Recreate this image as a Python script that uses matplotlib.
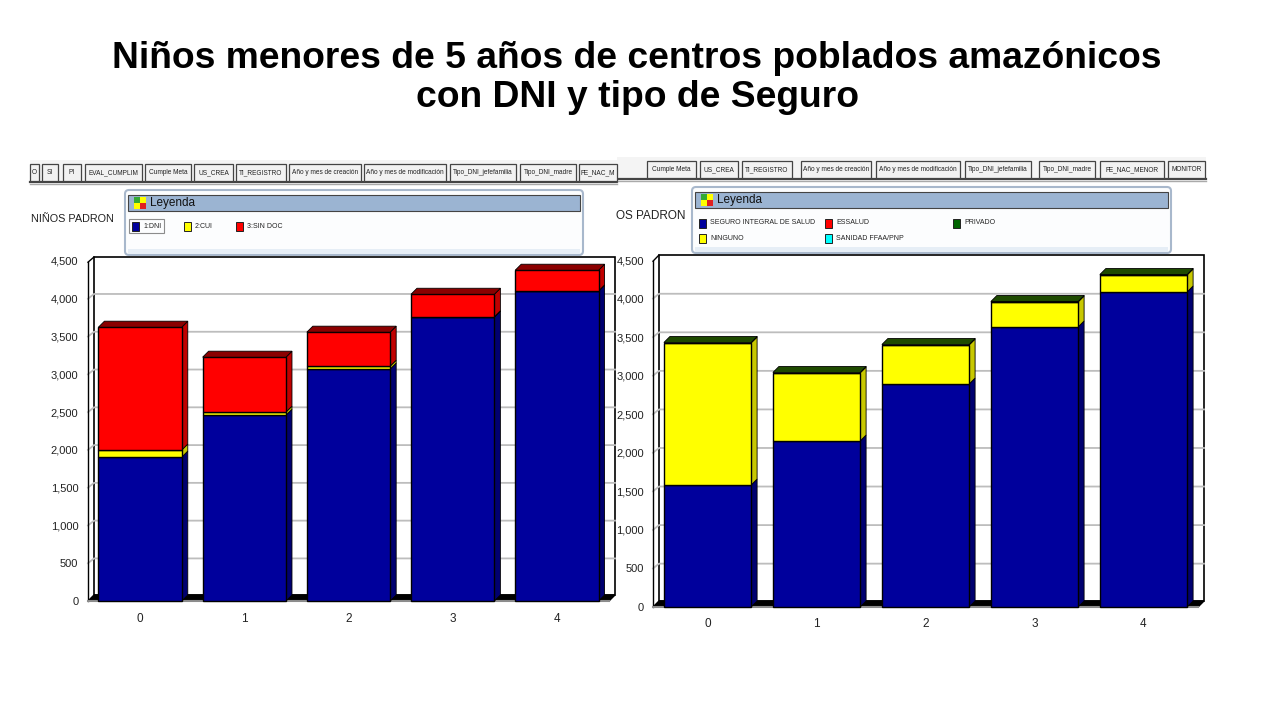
import matplotlib
matplotlib.use("Agg")
import matplotlib.pyplot as plt
from matplotlib.patches import Rectangle, Polygon, FancyBboxPatch

W, H = 1280, 720
plt.rcParams['font.family'] = ['Liberation Sans', 'DejaVu Sans']

TITLE = "Niños menores de 5 años de centros poblados amazónicos\ncon DNI y tipo de Seguro"
ages = ["0", "1", "2", "3", "4"]
yticks = [0, 500, 1000, 1500, 2000, 2500, 3000, 3500, 4000, 4500]

dni = [1905, 2460, 3070, 3757, 4100]
cui = [93, 40, 38, 5, 4]
sin_doc = [1626, 727, 450, 298, 274]

sis = [1582, 2153, 2892, 3632, 4086]
ninguno = [1842, 882, 506, 324, 220]
privado = [6, 6, 6, 6, 6]

tabs_left = ["O", "SI", "PI", "EVAL_CUMPLIM", "Cumple Meta", "US_CREA", "TI_REGISTRO", "Año y mes de creación",
             "Año y mes de modificación", "Tipo_DNI_jefefamilia", "Tipo_DNI_madre", "FE_NAC_M"]
tabs_left_x = [30, 42, 63, 85, 145, 194, 236, 289, 364, 450, 520, 579]
tabs_left_w = [9, 16, 18, 57, 46, 39, 50, 72, 82, 66, 56, 38]
tabs_right = ["Cumple Meta", "US_CREA", "TI_REGISTRO", "Año y mes de creación",
              "Año y mes de modificación", "Tipo_DNI_jefefamilia", "Tipo_DNI_madre", "FE_NAC_MENOR", "MONITOR"]
tabs_right_x = [647, 700, 742, 801, 876, 965, 1039, 1100, 1168]
tabs_right_w = [49, 38, 50, 70, 84, 66, 56, 64, 37]

NAVY, NAVY_D = "#00009C", "#000070"
YEL, YEL_D = "#FFFF00", "#C8C800"
RED, RED_D = "#FF0000", "#C00000"
DGREEN, DGREEN_D = "#1E4A00", "#123000"
TOP_RED = "#8B0000"

fig = plt.figure(figsize=(W / 100, H / 100), dpi=100, facecolor="white")
bg = fig.add_axes([0, 0, 1, 1])
bg.set_xlim(0, W)
bg.set_ylim(H, 0)
bg.axis("off")
bg.text(637, 78, TITLE, ha="center", va="center", fontsize=26.8, fontweight="bold",
        linespacing=1.175, color="black")


def chart(x0, x1, y0, y45, series, wall_top, depth_px, ypad, xpad, top_color):
    ax = fig.add_axes([x0 / W, 1 - y0 / H, (x1 - x0) / W, (y0 - y45) / H])
    ax.set_xlim(-0.5, 4.5)
    ax.set_ylim(0, 4500)
    ax.patch.set_alpha(0)
    for s in ax.spines.values():
        s.set_visible(False)
    dx = depth_px / ((x1 - x0) / 5)
    dy = depth_px * 4500 / (y0 - y45)
    top = (y0 - wall_top) / (y0 - y45) * 4500
    ax.add_patch(Rectangle((-0.5 + dx, dy), 5, top - dy, fc="white", ec="black", lw=1.2,
                           clip_on=False, zorder=1))
    ax.plot([-0.5, -0.5], [0, 4500 - dy * 0.2], color="black", lw=1.0, clip_on=False, zorder=1.5)
    ax.plot([-0.5, -0.5 + dx], [4500 - dy * 0.2, top], color="black", lw=1.0, clip_on=False, zorder=1.5)
    for t in yticks[1:-1]:
        ax.plot([-0.5, -0.5 + dx, 4.5 + dx], [t, t + dy * 0.8, t + dy * 0.8], color="#BDBDBD", lw=1.3,
                zorder=1.2, clip_on=False)
    ax.add_patch(Polygon([(-0.5, 0), (-0.5 + dx, dy), (4.5 + dx, dy), (4.5, 0)], closed=True,
                         fc="black", ec="black", clip_on=False, zorder=1.6))
    ax.plot([-0.5, 4.5], [0, 0], color="#8C8C8C", lw=1.5, clip_on=False, zorder=1.7)
    w = 0.8
    for i in range(5):
        base = 0
        l, r = i - w / 2, i + w / 2
        for vals, c, cd in series:
            v = vals[i]
            ax.add_patch(Polygon([(r, base), (r + dx, base + dy), (r + dx, base + v + dy), (r, base + v)],
                                 closed=True, fc=cd, ec="black", lw=0.6, zorder=3 + base * 1e-4, clip_on=False))
            ax.bar(i, v, bottom=base, width=w, color=c, ec="black", lw=1.0, zorder=3.5, clip_on=False)
            base += v
        ax.add_patch(Polygon([(l, base), (l + dx, base + dy), (r + dx, base + dy), (r, base)],
                             closed=True, fc=top_color, ec="black", lw=0.6, zorder=4, clip_on=False))
    ax.set_xticks(range(5), ages)
    ax.set_yticks(yticks, [f"{t:,}" for t in yticks])
    ax.tick_params(axis="x", length=0, pad=xpad, labelsize=8.5, labelcolor="#222222")
    ax.tick_params(axis="y", length=0, pad=ypad, labelsize=8, labelcolor="#222222")
    return ax


chart(88, 609, 601, 261, [(dni, NAVY, NAVY_D), (cui, YEL, YEL_D), (sin_doc, RED, RED_D)], 257, 6, 7, 9, TOP_RED)
chart(653, 1198, 607, 260, [(sis, NAVY, NAVY_D), (ninguno, YEL, YEL_D), (privado, DGREEN, DGREEN_D)], 255, 6, 6.5, 8,
      DGREEN)


def tabs(labels, xs, ws, y_line, xa, xb):
    bg.add_patch(Rectangle((xa, y_line - 22), xb - xa, 22, fc="#F4F4F4", ec="none", zorder=2))
    bg.plot([xa, xb], [y_line, y_line], color="#444444", lw=1.6, zorder=3)
    bg.plot([xa, xb], [y_line + 2, y_line + 2], color="#AAAAAA", lw=1, zorder=3)
    for t, x, w in zip(labels, xs, ws):
        bg.add_patch(Rectangle((x, y_line - 18), w, 17, fc="#F2F2F2", ec="#444444", lw=0.9, zorder=4))
        bg.text(x + w / 2, y_line - 9.5, t, ha="center", va="center", fontsize=4.7, color="#222222", zorder=5)


tabs(tabs_left, tabs_left_x, tabs_left_w, 182, 30, 617)
tabs(tabs_right, tabs_right_x, tabs_right_w, 179, 617, 1206)
bg.text(31, 219, "NIÑOS PADRON", ha="left", va="center", fontsize=7.8, color="#222222", zorder=5)
bg.text(616, 216, "OS PADRON", ha="left", va="center", fontsize=8.5, color="#222222", zorder=5)


def legend(x, y, w, h, entries):
    bg.add_patch(FancyBboxPatch((x, y), w, h, boxstyle="round,pad=0,rounding_size=4", fc="#FCFDFE",
                                ec="#A8B8CC", lw=1.5, zorder=6))
    bg.add_patch(Rectangle((x + 3, y + 5), w - 6, 16, fc="#9BB4D2", ec="#444444", lw=0.8, zorder=7))
    bg.add_patch(Rectangle((x + 3, y + h - 6), w - 6, 5, fc="#E6EEF6", ec="none", zorder=7))
    ix, iy = x + 9, y + 7
    for cx, cy, c in [(0, 0, "#33AA33"), (6, 0, "#FFFF00"), (0, 6, "#FFFF00"), (6, 6, "#E02020")]:
        bg.add_patch(Rectangle((ix + cx, iy + cy), 6, 6, fc=c, ec="none", zorder=8))
    bg.text(x + 25, y + 13, "Leyenda", ha="left", va="center", fontsize=8.5, color="#111111", zorder=8)
    for ex, ey, c, t in entries:
        bg.add_patch(Rectangle((ex, ey - 4.5), 6.5, 9, fc=c, ec="#222222", lw=0.7, zorder=8))
        bg.text(ex + 11, ey, t, ha="left", va="center", fontsize=5, color="#222222", zorder=8)


legend(125, 190, 458, 65, [(132, 226, NAVY, "1:DNI"), (184, 226, YEL, "2:CUI"), (236, 226, RED, "3:SIN DOC")])
bg.add_patch(Rectangle((129, 219), 35, 14, fc="none", ec="#8C8C8C", lw=0.8, zorder=8))
legend(692, 187, 479, 66, [(699, 223, NAVY, "SEGURO INTEGRAL DE SALUD"), (825, 223, RED, "ESSALUD"),
                           (953, 223, "#006400", "PRIVADO"), (699, 238, YEL, "NINGUNO"),
                           (825, 238, "#00FFFF", "SANIDAD FFAA/PNP")])
fig.savefig("out.png", dpi=100)
